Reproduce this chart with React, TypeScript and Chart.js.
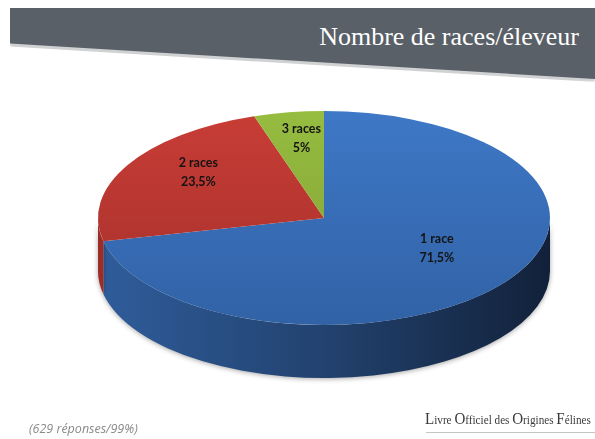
import React, { useEffect, useRef } from "react";
import { Chart, registerables } from "chart.js";

Chart.register(...registerables);

// ---- data ----
const categories = ["1 race", "2 races", "3 races"];
const shares = [71.5, 23.5, 5];

// ---- styles ----
const topColors = [
  ["#3e78c6", "#3162a6"],
  ["#c83d36", "#a42f2a"],
  ["#96bc40", "#7f9f33"],
];
const sideColors = [
  ["#2f5d9b", "#22426f", "#12213a"],
  ["#9c2c27", "#7a211d", "#571612"],
  ["#6f8c2a", "#58701f", "#3f5016"],
];
const GEO = { cx: 324, cy: 218, rx: 226, ry: 107, depth: 53, labelR: 0.64, labelDy: -12 };

const fmt = (v: number) => String(v).replace(".", ",") + "%";

const pie3d = {
  id: "pie3d",
  beforeDatasetsDraw(chart: any) {
    const ctx: CanvasRenderingContext2D = chart.ctx;
    const meta = chart.getDatasetMeta(0);
    const { cx, cy, rx, ry, depth } = GEO;
    meta.data.forEach((arc: any, i: number) => {
      const { startAngle, endAngle } = arc.getProps(["startAngle", "endAngle"], true);
      for (let k = -1; k <= 1; k++) {
        const lo = Math.max(startAngle, k * 2 * Math.PI);
        const hi = Math.min(endAngle, k * 2 * Math.PI + Math.PI);
        if (hi <= lo) continue;
        ctx.save();
        const g = ctx.createLinearGradient(cx - rx, 0, cx + rx, 0);
        const sc = sideColors[i];
        g.addColorStop(0, sc[0]);
        g.addColorStop(0.5, sc[1]);
        g.addColorStop(1, sc[2]);
        ctx.beginPath();
        ctx.ellipse(cx, cy, rx, ry, 0, lo, hi);
        ctx.ellipse(cx, cy + depth, rx, ry, 0, hi, lo, true);
        ctx.closePath();
        ctx.shadowColor = "rgba(0,0,0,0.35)";
        ctx.shadowBlur = 5;
        ctx.shadowOffsetY = 1;
        ctx.fillStyle = g;
        ctx.fill();
        ctx.restore();
      }
    });
    const a0 = meta.data[0];
    const { x, y, outerRadius } = a0.getProps(["x", "y", "outerRadius"], true);
    ctx.save();
    ctx.translate(cx, cy);
    ctx.scale(rx / outerRadius, ry / outerRadius);
    ctx.translate(-x, -y);
  },
  afterDatasetsDraw(chart: any) {
    const ctx: CanvasRenderingContext2D = chart.ctx;
    ctx.restore();
    const meta = chart.getDatasetMeta(0);
    const { cx, cy, rx, ry, labelR, labelDy } = GEO;
    ctx.save();
    ctx.font = 'bold 12.5px Lato, "Noto Sans", sans-serif';
    ctx.fillStyle = "#141414";
    ctx.textAlign = "center";
    ctx.textBaseline = "middle";
    meta.data.forEach((arc: any, i: number) => {
      const { startAngle, endAngle } = arc.getProps(["startAngle", "endAngle"], true);
      const mid = (startAngle + endAngle) / 2;
      const px = cx + rx * labelR * Math.cos(mid);
      const py = cy + ry * labelR * Math.sin(mid) + labelDy;
      ctx.fillText(categories[i], px, py - 9.5);
      ctx.fillText(fmt(shares[i]), px, py + 9.5);
    });
    ctx.restore();
  },
};

export default function App() {
  const ref = useRef<HTMLCanvasElement>(null);
  useEffect(() => {
    if (!ref.current) return;
    const chart = new Chart(ref.current, {
      type: "pie",
      data: {
        labels: categories,
        datasets: [
          {
            data: shares,
            borderWidth: 0,
            clip: false as any,
            backgroundColor: (c: any) => {
              const chart = c.chart;
              const area = chart.chartArea;
              const pair = topColors[c.dataIndex] || topColors[0];
              if (!area) return pair[0];
              const g = chart.ctx.createLinearGradient(0, area.top, 0, area.bottom);
              g.addColorStop(0, pair[0]);
              g.addColorStop(1, pair[1]);
              return g;
            },
          },
        ],
      },
      options: {
        responsive: false,
        animation: false,
        events: [],
        layout: { padding: 0 },
        plugins: {
          legend: { display: false },
          tooltip: { enabled: false },
        },
      },
      plugins: [pie3d],
    });
    return () => chart.destroy();
  }, []);

  const capStyle: React.CSSProperties = { fontSize: 17.5 };
  return (
    <div
      style={{
        position: "fixed",
        left: 0,
        top: 0,
        width: 595,
        height: 439,
        overflow: "hidden",
        background: "#fff",
      }}
    >
      <div
        style={{
          position: "absolute",
          left: 10,
          top: 11,
          width: 585,
          height: 71,
          background: "#cfd1d3",
          clipPath: "polygon(0 0, 100% 0, 100% 100%, 0 50%)",
          filter: "blur(1px)",
        }}
      />
      <div
        style={{
          position: "absolute",
          left: 10,
          top: 8,
          width: 585,
          height: 71,
          background: "#596067",
          clipPath: "polygon(0 0, 100% 0, 100% 100%, 0 50%)",
        }}
      />
      <div
        style={{
          position: "absolute",
          right: 16,
          top: 22,
          fontFamily: '"Liberation Serif", "Times New Roman", serif',
          fontSize: 26,
          lineHeight: "30px",
          color: "#ffffff",
          whiteSpace: "pre",
        }}
      >
        Nombre de races/éleveur
      </div>
      <canvas ref={ref} width={595} height={439} style={{ position: "absolute", left: 0, top: 0 }} />
      <div
        style={{
          position: "absolute",
          left: 29,
          top: 421,
          fontFamily: '"Open Sans", "Noto Sans", sans-serif',
          fontStyle: "italic",
          fontSize: 12.5,
          lineHeight: "16px",
          color: "#8a8a8a",
          whiteSpace: "pre",
        }}
      >
        (629 réponses/99%)
      </div>
      <div
        style={{
          position: "absolute",
          left: 425,
          top: 408,
          fontFamily: '"Liberation Serif", "Times New Roman", serif',
          fontSize: 13,
          lineHeight: "20px",
          color: "#3a3a3a",
          whiteSpace: "pre",
          transform: "scaleX(0.86)",
          transformOrigin: "0 0",
        }}
      >
        <span style={capStyle}>L</span>ivre <span style={capStyle}>O</span>fficiel des{" "}
        <span style={capStyle}>O</span>rigines <span style={capStyle}>F</span>élines
      </div>
      <div
        style={{
          position: "absolute",
          left: 426,
          top: 432,
          width: 169,
          height: 1,
          background: "#c4c4c4",
        }}
      />
    </div>
  );
}
